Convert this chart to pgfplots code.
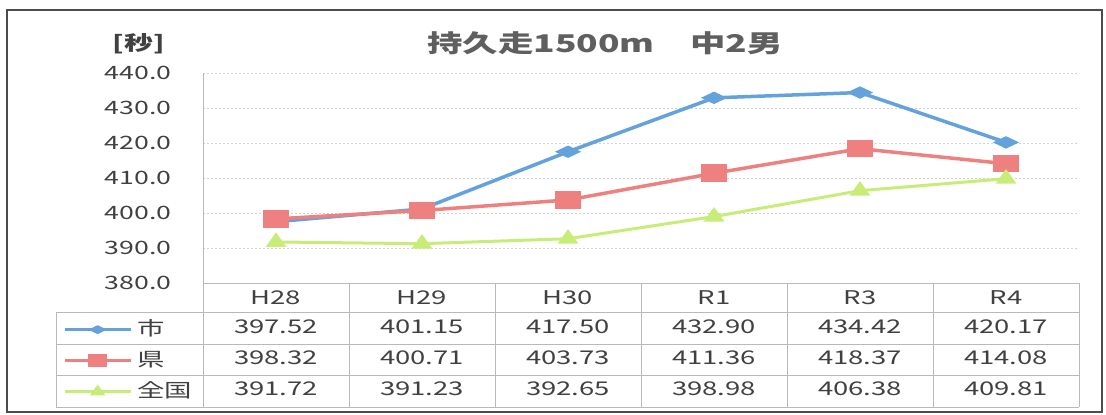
\documentclass[border=0pt]{standalone}
\usepackage{fontspec}
\setmainfont{Noto Sans CJK JP}[FakeStretch=1.45]
\usepackage{pgfplots}
\usepackage{pgfplotstable}
\pgfplotsset{compat=1.18}

\definecolor{cshi}{RGB}{100,162,222}
\definecolor{cken}{RGB}{238,128,128}
\definecolor{czen}{RGB}{200,236,120}
\definecolor{txt}{RGB}{64,64,64}
\definecolor{ttl}{RGB}{95,95,95}
\definecolor{gridc}{RGB}{210,210,210}

\pgfplotstableread{
x shi ken zen
0 397.52 398.32 391.72
1 401.15 400.71 391.23
2 417.50 403.73 392.65
3 432.90 411.36 398.98
4 434.42 418.37 406.38
5 420.17 414.08 409.81
}\datatable

\begin{document}
\begin{tikzpicture}
\useasboundingbox (0,0) rectangle (1106bp,415bp);
\draw[line width=1.5bp, black!70] (7bp,3bp) rectangle (1102bp,405bp);
\node[font=\fontsize{24.5}{24.5}\selectfont\bfseries, text=ttl] at (605bp,372bp) {持久走1500m　中2男};
\node[font=\fontsize{20}{20}\selectfont\bfseries, text=txt] at (139bp,371bp) {[秒]};

\begin{axis}[
  at={(203bp,132bp)}, anchor=south west,
  scale only axis, width=876bp, height=210bp,
  xmin=-0.5, xmax=5.5, ymin=380, ymax=440,
  ytick={380,390,...,440},
  xtick={0,...,5}, xticklabels={H28,H29,H30,R1,R3,R4},
  axis x line=bottom, axis y line=left,
  axis line style={-, gray!55, line width=0.8bp},
  major tick length=0pt,
  ymajorgrids, grid style={gridc, line width=0.8bp, dash pattern=on 2bp off 2bp},
  /pgf/number format/assume math mode=true,
  yticklabel style={/pgf/number format/fixed, /pgf/number format/fixed zerofill, /pgf/number format/precision=1,
    font=\fontsize{18.5}{18.5}\selectfont, text=txt, xshift=-28bp},
  xticklabel style={font=\fontsize{19}{19}\selectfont, text=txt, yshift=-4bp},
  legend style={at={(-0.163,-0.138)}, anchor=north west, draw=none, fill=none,
    font=\fontsize{19}{19}\selectfont, text=txt,
    nodes={text height=16bp, text depth=4bp, inner sep=5.5bp}, row sep=0pt},
  legend cell align=left,
  legend image code/.code={\draw[mark repeat=2,mark phase=2, line width=2.5bp,
      /tikz/every mark/.append style={scale=0.72}]
      plot coordinates {(0bp,0bp) (33bp,0bp) (66bp,0bp)};},
]
\addplot[color=cshi, line width=3.5bp, mark=diamond*, mark size=4.5bp,
  mark options={xscale=2.67, yscale=0.95, solid}] table[x=x, y=shi] {\datatable};
\addplot[color=cken, line width=3.5bp, mark=square*, mark size=7bp,
  mark options={xscale=1.64, solid}] table[x=x, y=ken] {\datatable};
\addplot[color=czen, line width=3bp, mark=triangle*, mark size=7bp,
  mark options={xscale=1.25, solid}] table[x=x, y=zen] {\datatable};
\legend{市,県,全国}
\end{axis}

\begin{scope}[gray!55, line width=0.8bp]
  \foreach \k in {0,...,6} \draw ({203bp+146bp*\k},132bp) -- ({203bp+146bp*\k},8bp);
  \foreach \yy in {103,71,40,8} \draw (56bp,\yy bp) -- (1079bp,\yy bp);
  \draw (56bp,103bp) -- (56bp,8bp);
\end{scope}

\foreach \r in {0,...,5} {
  \pgfplotstablegetelem{\r}{shi}\of\datatable
  \node[font=\fontsize{19}{19}\selectfont, text=txt] at ({203bp+146bp*(\r+0.5)},88bp)
    {\pgfmathprintnumber[fixed,fixed zerofill,precision=2,assume math mode=true]{\pgfplotsretval}};
  \pgfplotstablegetelem{\r}{ken}\of\datatable
  \node[font=\fontsize{19}{19}\selectfont, text=txt] at ({203bp+146bp*(\r+0.5)},57bp)
    {\pgfmathprintnumber[fixed,fixed zerofill,precision=2,assume math mode=true]{\pgfplotsretval}};
  \pgfplotstablegetelem{\r}{zen}\of\datatable
  \node[font=\fontsize{19}{19}\selectfont, text=txt] at ({203bp+146bp*(\r+0.5)},26bp)
    {\pgfmathprintnumber[fixed,fixed zerofill,precision=2,assume math mode=true]{\pgfplotsretval}};
}
\end{tikzpicture}
\end{document}
